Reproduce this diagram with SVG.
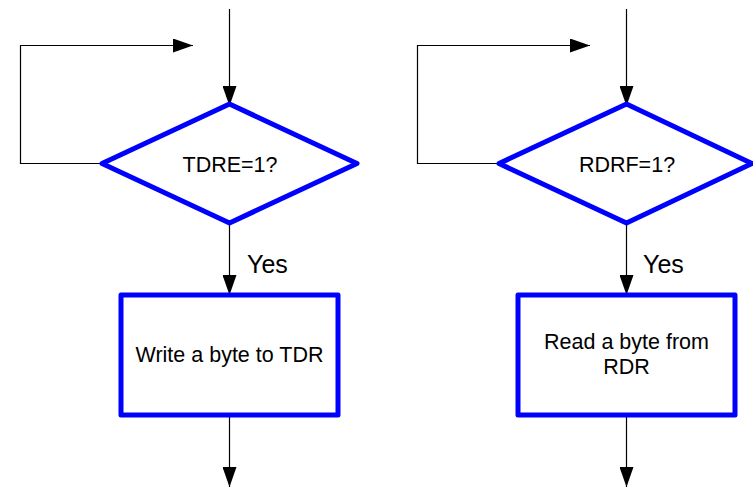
<svg xmlns="http://www.w3.org/2000/svg" width="753" height="487" viewBox="0 0 753 487">
<style>
.ln{stroke:#000;stroke-width:1.2;fill:none}
.shape{stroke:#0000FF;stroke-width:5;fill:#fff;stroke-linejoin:round}
text{font-family:"Liberation Sans",Arial,sans-serif;fill:#000;text-anchor:middle}
.t{font-size:21.5px}
.y{font-size:25px;text-anchor:start}
</style>
<defs>
<marker id="ah" markerWidth="20" markerHeight="14" refX="20" refY="7" orient="auto" markerUnits="userSpaceOnUse">
<path d="M0,0 L20,7 L0,14 Z" fill="#000"/>
</marker>
</defs>
<g id="connectors">
<path class="ln" d="M229.5,9 V106" marker-end="url(#ah)"/>
<path class="ln" d="M103,163.5 H20.5 V45.5 H193" marker-end="url(#ah)"/>
<path class="ln" d="M229.5,223 V295" marker-end="url(#ah)"/>
<path class="ln" d="M229.5,415 V487" marker-end="url(#ah)"/>
<path class="ln" d="M626.5,9 V106" marker-end="url(#ah)"/>
<path class="ln" d="M500,163.5 H417.5 V45.5 H590" marker-end="url(#ah)"/>
<path class="ln" d="M626.5,223 V295" marker-end="url(#ah)"/>
<path class="ln" d="M626.5,415 V487" marker-end="url(#ah)"/>
</g>
<g id="d1">
<polygon class="shape" points="229.5,104 357,163.5 229.5,223 102,163.5"/>
<text class="t" x="230" y="171.5">TDRE=1?</text>
</g>
<g id="yes1"><text class="y" x="247" y="273">Yes</text></g>
<g id="r1">
<rect class="shape" x="121" y="295" width="217" height="120"/>
<text class="t" x="229.5" y="362">Write a byte to TDR</text>
</g>
<g id="d2">
<polygon class="shape" points="626.5,104 752,163.5 626.5,223 499,163.5"/>
<text class="t" x="627" y="171.5">RDRF=1?</text>
</g>
<g id="yes2"><text class="y" x="643" y="273">Yes</text></g>
<g id="r2">
<rect class="shape" x="518" y="295" width="217" height="120"/>
<text class="t" x="626.5" y="349">Read a byte from</text>
<text class="t" x="626.5" y="374">RDR</text>
</g>
</svg>
